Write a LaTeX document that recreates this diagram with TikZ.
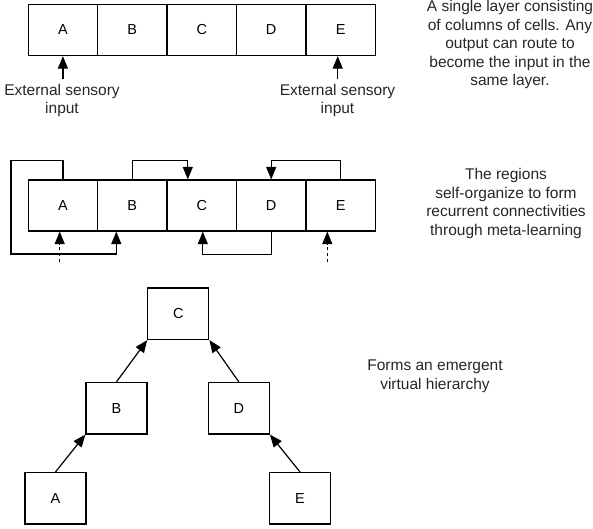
\documentclass[tikz,border=0pt]{standalone}
\usepackage{fontspec}
\setmainfont{Liberation Sans}
\usetikzlibrary{arrows.meta,calc}
\tikzset{
  cell/.style={draw, line width=1.2pt, minimum width=69.4pt, minimum height=51pt, inner sep=0pt, font=\fontsize{14.5}{17}\selectfont},
  hbox/.style={draw, line width=1.2pt, minimum width=61pt, minimum height=51.5pt, inner sep=0pt, font=\fontsize{14.5}{17}\selectfont},
  txt/.style={align=center, inner sep=0pt, font=\fontsize{15.5}{18.5}\selectfont, text=black!85},
  arr/.style={line width=1.2pt, -{Triangle[length=12.5pt,width=10pt]}},
  dotarr/.style={arr, dash pattern=on 3pt off 3pt},
  link/.style={arr, rounded corners=0pt}
}
\begin{document}
\begin{tikzpicture}[x=1pt,y=-1pt]
\useasboundingbox (0,0) rectangle (593,528);
% top row
\node[cell] (tA) at (62.9,30) {A};
\node[cell] (tB) at (132.3,30) {B};
\node[cell] (tC) at (201.8,30) {C};
\node[cell] (tD) at (271.2,30) {D};
\node[cell] (tE) at (340.6,30) {E};
\node[txt] (ext1) at (62,100.5) {External sensory\\input};
\node[txt] (ext2) at (337.5,100.5) {External sensory\\input};
\coordinate (inA) at (62.9,79);
\coordinate (inE) at (337.7,79);
\draw[arr] (inA) -- (tA.south -| inA);
\draw[arr] (inE) -- (tE.south -| inE);
\node[txt] (t1) at (510,44.5) {A single layer consisting\\of columns of cells. Any\\output can route to\\become the input in the\\same layer.};
% middle row
\node[cell] (mA) at (62.9,205.5) {A};
\node[cell] (mB) at (132.3,205.5) {B};
\node[cell] (mC) at (201.8,205.5) {C};
\node[cell] (mD) at (271.2,205.5) {D};
\node[cell] (mE) at (340.6,205.5) {E};
\coordinate (loopL) at (11,254);
\draw[link] (mA.north) -- ++(0,-19.3) -| (loopL) -| ($(mB.south)+(-16,0)$);
\draw[link] (mB.north) -- ++(0,-19.3) -| ($(mC.north)+(-14,0)$);
\draw[link] (mE.north) -- ++(0,-19.3) -| (mD.north);
\draw[link] (mD.south) -- ++(0,23) -| ($(mC.south)+(1,0)$);
\coordinate (dA) at (59.7,262);
\coordinate (dE) at (327.3,262);
\draw[dotarr] (dA) -- (mA.south -| dA);
\draw[dotarr] (dE) -- (mE.south -| dE);
\node[txt] (t2) at (506,203.5) {The regions\\self-organize to form\\recurrent connectivities\\through meta-learning};
% hierarchy
\node[hbox] (hC) at (178.3,313.7) {C};
\node[hbox] (hB) at (116.5,408.2) {B};
\node[hbox] (hD) at (238.8,408.2) {D};
\node[hbox] (hA) at (55.5,498.3) {A};
\node[hbox] (hE) at (300,498.3) {E};
\draw[arr] (hB.north) -- (hC.south west);
\draw[arr] (hD.north) -- (hC.south east);
\draw[arr] (hA.north) -- (hB.south west);
\draw[arr] (hE.north) -- (hD.south east);
\node[txt] (t3) at (435,376.5) {Forms an emergent\\virtual hierarchy};
\end{tikzpicture}
\end{document}
